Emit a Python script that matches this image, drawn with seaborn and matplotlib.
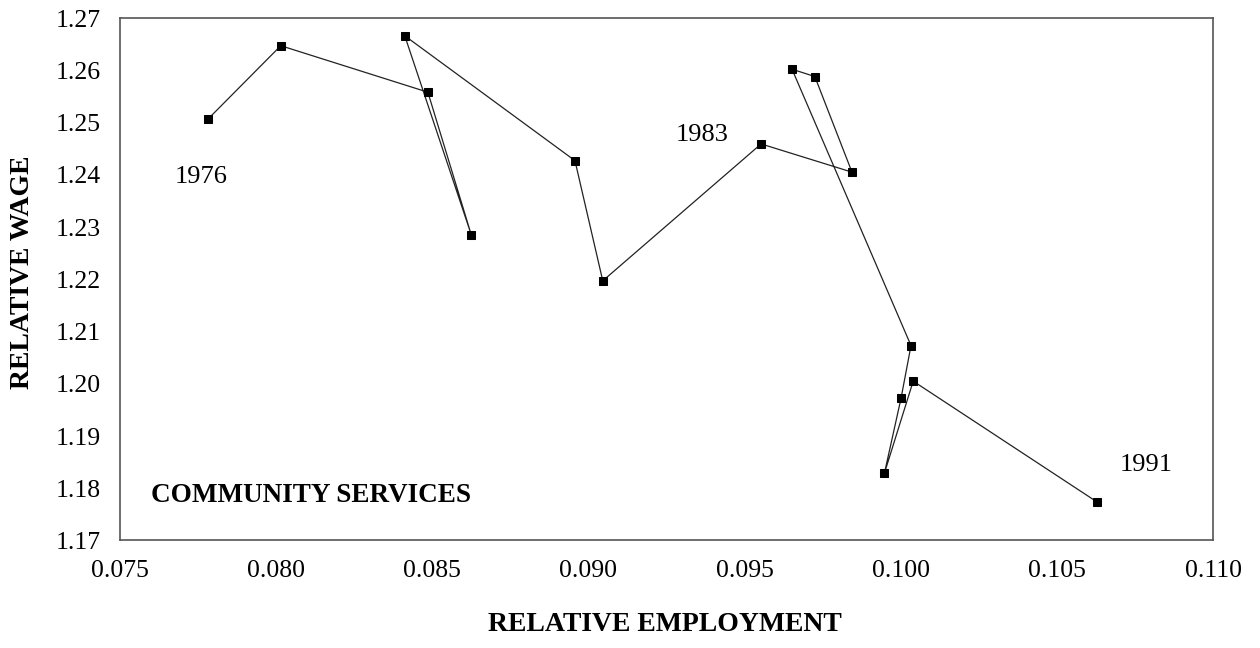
import matplotlib
matplotlib.use("Agg")
import matplotlib.pyplot as plt
import seaborn as sns
import pandas as pd

years = [1976, 1977, 1978, 1979, 1980, 1981, 1982, 1983, 1984, 1985, 1986,
         1987, 1988, 1989, 1990, 1991]
rel_employment = [0.07781, 0.08015, 0.08486, 0.08625, 0.08412, 0.08957, 0.09046,
                  0.09553, 0.09844, 0.09725, 0.09652, 0.10033, 0.10001, 0.09948,
                  0.10040, 0.10628]
rel_wage = [1.2506, 1.2647, 1.2558, 1.2285, 1.2666, 1.2427, 1.2197,
            1.2459, 1.2405, 1.2588, 1.2602, 1.2073, 1.1972, 1.1829,
            1.2005, 1.1774]
x_ticks = [0.075, 0.080, 0.085, 0.090, 0.095, 0.100, 0.105, 0.110]
y_ticks = [1.17, 1.18, 1.19, 1.20, 1.21, 1.22, 1.23, 1.24, 1.25, 1.26, 1.27]

df = pd.DataFrame({"year": years, "emp": rel_employment, "wage": rel_wage})

sns.set_theme(style="white")
plt.rcParams["font.family"] = ["Liberation Serif", "DejaVu Serif"]
plt.rcParams["text.color"] = "black"

fig = plt.figure(figsize=(12.6, 6.48), dpi=100)
ax = fig.add_axes([0.0952, 0.1659, 0.8675, 0.8063])

sns.lineplot(data=df, x="emp", y="wage", sort=False, estimator=None,
             color="#222222", linewidth=0.9, marker="s", markersize=6,
             markerfacecolor="black", markeredgecolor="black", ax=ax)

ax.set_xlim(0.075, 0.110)
ax.set_ylim(1.17, 1.27)
ax.set_xticks(x_ticks)
ax.set_xticklabels([f"{v:.3f}" for v in x_ticks])
ax.set_yticks(y_ticks)
ax.set_yticklabels([f"{v:.2f}" for v in y_ticks])
ax.tick_params(axis="both", direction="out", length=6, width=1, colors="#444444",
               labelsize=18.5, labelcolor="black", pad=8)
for s in ax.spines.values():
    s.set_visible(True)
    s.set_color("#555555")
    s.set_linewidth(1.2)

ax.set_xlabel("")
ax.set_ylabel("")
fig.text(0.528, 0.037, "RELATIVE EMPLOYMENT", ha="center", va="center",
         fontsize=20, fontweight="bold", color="black")
fig.text(0.018, 0.58, "RELATIVE WAGE", ha="center", va="center",
         rotation=90, fontsize=20, fontweight="bold", color="black")

ax.text(0.07759, 1.2396, "1976", fontsize=19, ha="center", va="center", color="black")
ax.text(0.09363, 1.2476, "1983", fontsize=19, ha="center", va="center", color="black")
ax.text(0.10787, 1.1845, "1991", fontsize=19, ha="center", va="center", color="black")
ax.text(0.07598, 1.1787, "COMMUNITY SERVICES", fontsize=19.5, fontweight="bold",
        ha="left", va="center", color="black")

fig.savefig("out.png", dpi=100)
